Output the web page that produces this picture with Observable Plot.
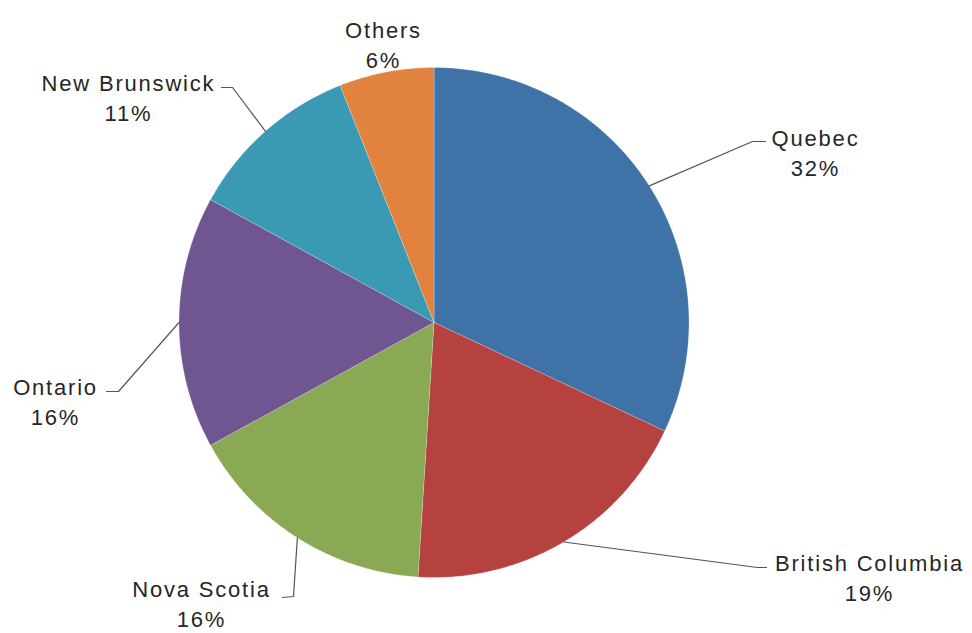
<!DOCTYPE html>
<html><head><meta charset="utf-8">
<script src="https://cdn.jsdelivr.net/npm/d3@7"></script>
<script src="https://cdn.jsdelivr.net/npm/@observablehq/plot@0.6"></script>
<style>html,body{margin:0;padding:0;background:#fff}</style>
</head><body><div id="chart"></div>
<script>
// ---- data ----
const categories = ["Quebec", "British Columbia", "Nova Scotia", "Ontario", "New Brunswick", "Others"];
const shares = [32, 19, 16, 16, 11, 6];
const sliceColors = ["#3F72A6", "#B6423F", "#89A955", "#6F5690", "#3A9AB3", "#E2823F"];

// ---- layout (pixels) ----
const W = 972, H = 633, CX = 433.5, CY = 322, R = 255;
const labelLayout = {
  "Quebec":           {at: [815, 151], elbow: [752, 141], end: [765, 141]},
  "British Columbia": {at: [869, 576], elbow: [757, 567], end: [766, 567]},
  "Nova Scotia":      {at: [201, 602], elbow: [293, 596], end: [282, 597]},
  "Ontario":          {at: [55, 400],  elbow: [118, 391], end: [106, 391]},
  "New Brunswick":    {at: [128, 96],  elbow: [232, 87],  end: [221, 87]},
  "Others":           {at: [383, 43]}
};
const ux = px => (px - CX) / R, uy = py => (CY - py) / R;

// ---- derived geometry from data ----
const total = d3.sum(shares);
let cum = 0;
const slices = categories.map((c, i) => {
  const a0 = cum / total * 2 * Math.PI;
  cum += shares[i];
  const a1 = cum / total * 2 * Math.PI;
  return {category: c, share: shares[i], a0, a1};
});
const sliceRows = [];
for (const s of slices) {
  sliceRows.push({category: s.category, x: 0, y: 0});
  const n = Math.max(2, Math.ceil((s.a1 - s.a0) / (Math.PI / 360)));
  for (let k = 0; k <= n; k++) {
    const a = s.a0 + (s.a1 - s.a0) * k / n;
    sliceRows.push({category: s.category, x: Math.sin(a), y: Math.cos(a)});
  }
}
const leaderRows = [];
for (const s of slices) {
  const L = labelLayout[s.category];
  if (!L.elbow) continue;
  const m = (s.a0 + s.a1) / 2;
  leaderRows.push({category: s.category, x: Math.sin(m), y: Math.cos(m)});
  leaderRows.push({category: s.category, x: ux(L.elbow[0]), y: uy(L.elbow[1])});
  leaderRows.push({category: s.category, x: ux(L.end[0]), y: uy(L.end[1])});
}
const labelRows = slices.map(s => ({
  category: s.category,
  x: ux(labelLayout[s.category].at[0]),
  y: uy(labelLayout[s.category].at[1]),
  text: `${s.category}\n${s.share}%`
}));

const chart = Plot.plot({
  width: W, height: H,
  margin: 0,
  x: {domain: [ux(0), ux(W)], range: [0, W], axis: null},
  y: {domain: [uy(H), uy(0)], range: [H, 0], axis: null},
  color: {domain: categories, range: sliceColors},
  style: {fontFamily: "'Liberation Sans', Arial, sans-serif", letterSpacing: "1.8px", background: "#fff"},
  marks: [
    Plot.line(sliceRows, {x: "x", y: "y", z: "category", fill: "category", stroke: "#ffffff", strokeWidth: 0.5, strokeOpacity: 0.5, curve: "linear-closed"}),
    Plot.line(leaderRows, {x: "x", y: "y", z: "category", stroke: "#555", strokeWidth: 1.2}),
    Plot.text(labelRows, {x: "x", y: "y", text: "text", fontSize: 22, lineHeight: 1.36, fill: "#262626"})
  ]
});
document.getElementById("chart").appendChild(chart);
</script>
</body></html>
